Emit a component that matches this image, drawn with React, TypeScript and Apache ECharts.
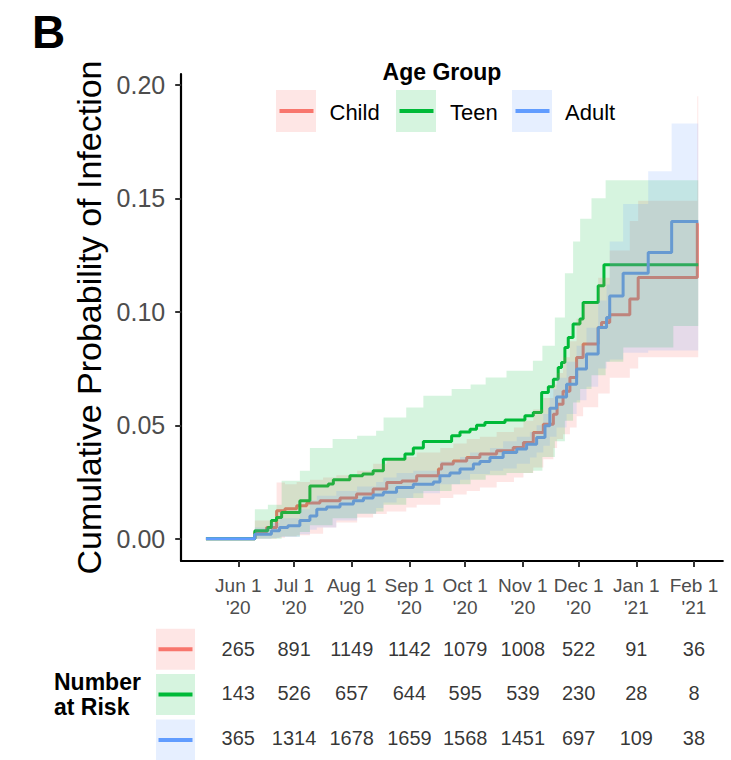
import React, { useEffect, useRef } from "react";
import * as echarts from "echarts";

const FONT = "'Liberation Sans', Arial, Helvetica, sans-serif";

// ---- categories / ticks ----
const groups = ["Child", "Teen", "Adult"];
const lineColors = ["#F8766D", "#00BA38", "#619CFF"];
const bandColors = ["rgba(248,118,109,0.18)", "rgba(0,186,56,0.16)", "rgba(97,156,255,0.16)"];

// days since Jun 1 2020
const tickDays = [0, 30, 61, 92, 122, 153, 183, 214, 245];
const tickLabels = ["Jun 1\n'20", "Jul 1\n'20", "Aug 1\n'20", "Sep 1\n'20", "Oct 1\n'20", "Nov 1\n'20", "Dec 1\n'20", "Jan 1\n'21", "Feb 1\n'21"];
const yTicks = [0, 0.05, 0.1, 0.15, 0.2];

// ---- estimates (step curves) ----
const childDays = [-17.4, 8.9, 15.2, 20.6, 25.1, 31.4, 36.8, 43.9, 54.7, 63.6, 72.5, 79.8, 87.9, 95.9, 107.6, 109.3, 115.6, 122.8, 129.9, 138.9, 147.8, 153.3, 158.6, 164, 169.4, 171.4, 174.6, 178.3, 181.9, 185.4, 193.5, 195.3, 199.7, 210.5, 215, 246.8, 247.3];
const childEst = [0, 0.003, 0.005, 0.0123, 0.0132, 0.0145, 0.0158, 0.0167, 0.018, 0.0197, 0.0219, 0.0248, 0.0255, 0.0278, 0.0307, 0.0329, 0.0343, 0.0358, 0.0373, 0.0388, 0.0402, 0.0424, 0.0468, 0.0505, 0.0549, 0.0593, 0.065, 0.0711, 0.0799, 0.0858, 0.0931, 0.0953, 0.0987, 0.1056, 0.1151, 0.139, 0.139];

const teenDays = [-17.4, 8.9, 15.9, 17.8, 20.6, 23.3, 33.1, 38.5, 48.4, 51.1, 60, 66.9, 72.5, 78, 89.6, 94.1, 99.5, 114.7, 119.2, 124.6, 128.1, 132.6, 143.4, 154.1, 158.6, 163.1, 166.7, 169.4, 172, 173.8, 175.6, 177.4, 180, 183.7, 185.4, 193.5, 196.6, 247.3];
const teenEst = [0, 0.0035, 0.005, 0.008, 0.0094, 0.0116, 0.0167, 0.0233, 0.0241, 0.026, 0.0278, 0.0285, 0.03, 0.035, 0.0373, 0.04, 0.0429, 0.0454, 0.047, 0.0483, 0.05, 0.0512, 0.0523, 0.0542, 0.0556, 0.0645, 0.067, 0.0703, 0.0755, 0.0777, 0.0843, 0.0887, 0.0946, 0.0968, 0.1041, 0.1115, 0.1207, 0.1207];

const adultDays = [-17.4, 8.9, 17.8, 22.2, 26.7, 33.1, 38.5, 42.2, 47.5, 54.7, 61.9, 67.3, 72.5, 78, 85.1, 94.1, 104.9, 108.4, 113.8, 119.2, 126.4, 129.9, 135.3, 142.4, 149.7, 155, 160.4, 164.9, 167.5, 171.1, 176.5, 181.9, 187.2, 193.5, 198, 199.7, 206.9, 220.4, 233, 247.3];
const adultEst = [0, 0.002, 0.0035, 0.005, 0.0057, 0.008, 0.01, 0.013, 0.014, 0.0153, 0.0167, 0.018, 0.0193, 0.0205, 0.0226, 0.024, 0.025, 0.0278, 0.029, 0.0307, 0.0329, 0.034, 0.0358, 0.038, 0.0395, 0.0417, 0.0446, 0.0498, 0.0575, 0.0625, 0.0681, 0.0748, 0.0814, 0.0931, 0.0975, 0.107, 0.117, 0.1261, 0.1398, 0.1398];

// ---- confidence bands ----
const childBandDays = [8.9, 20.6, 25.1, 31.4, 38.5, 45.6, 52.7, 63.9, 72.5, 79.8, 90.3, 95.9, 108.6, 115.6, 122.8, 129.9, 138.9, 148.2, 153.3, 158.6, 164, 169.4, 171.4, 174.6, 178.3, 181.9, 185.4, 193.5, 199.7, 210.5, 215, 246.8, 247.3];
const childLow = [0, 0.0005, 0.001, 0.0015, 0.0022, 0.005, 0.0072, 0.0094, 0.0109, 0.012, 0.0138, 0.015, 0.018, 0.0195, 0.021, 0.0226, 0.025, 0.027, 0.029, 0.0314, 0.035, 0.04, 0.044, 0.046, 0.049, 0.054, 0.058, 0.064, 0.071, 0.075, 0.08, 0.08, 0.08];
const childHigh = [0.008, 0.0248, 0.024, 0.025, 0.026, 0.027, 0.028, 0.03, 0.033, 0.035, 0.036, 0.038, 0.04, 0.042, 0.044, 0.045, 0.047, 0.049, 0.052, 0.057, 0.062, 0.068, 0.073, 0.08, 0.087, 0.097, 0.104, 0.115, 0.127, 0.14, 0.149, 0.195, 0.195];

const teenBandDays = [8.9, 15.9, 23.3, 33.1, 38.5, 50.7, 63.9, 74.1, 78.1, 90.3, 99.5, 114.7, 124.9, 133, 144.2, 158.4, 163.5, 170.2, 175.6, 180, 183.8, 189.9, 197.5, 207, 233.9, 247.3];
const teenLow = [0, 0, 0.001, 0.003, 0.006, 0.009, 0.011, 0.012, 0.015, 0.018, 0.021, 0.024, 0.026, 0.028, 0.029, 0.03, 0.036, 0.043, 0.052, 0.06, 0.066, 0.072, 0.078, 0.0843, 0.0938, 0.0938];
const teenHigh = [0.013, 0.015, 0.0256, 0.03, 0.04, 0.044, 0.0454, 0.0476, 0.0534, 0.0578, 0.063, 0.066, 0.068, 0.0711, 0.074, 0.0784, 0.085, 0.0975, 0.117, 0.131, 0.141, 0.15, 0.158, 0.158, 0.158, 0.158];

const adultBandDays = [8.9, 17.8, 22.2, 33.1, 38.5, 42.2, 52.7, 63.9, 74.1, 78, 85.1, 94.1, 108.4, 119.2, 124.6, 135.3, 142.4, 149.7, 156.8, 160.4, 164, 167.5, 171.1, 176.5, 181.9, 187.2, 193.5, 198, 199.7, 206.9, 220.4, 233, 247.3];
const adultLow = [0, 0.0003, 0.0008, 0.002, 0.004, 0.005, 0.008, 0.011, 0.0135, 0.016, 0.018, 0.02, 0.024, 0.026, 0.0285, 0.03, 0.031, 0.033, 0.0358, 0.038, 0.041, 0.045, 0.049, 0.055, 0.061, 0.067, 0.075, 0.078, 0.079, 0.082, 0.083, 0.083, 0.083];
const adultHigh = [0.005, 0.007, 0.009, 0.013, 0.017, 0.019, 0.021, 0.023, 0.025, 0.027, 0.029, 0.03, 0.034, 0.036, 0.038, 0.04, 0.043, 0.045, 0.047, 0.05, 0.055, 0.066, 0.071, 0.078, 0.085, 0.093, 0.105, 0.112, 0.131, 0.1475, 0.162, 0.183, 0.183];

// ---- number at risk ----
const atRiskChild = [265, 891, 1149, 1142, 1079, 1008, 522, 91, 36];
const atRiskTeen = [143, 526, 657, 644, 595, 539, 230, 28, 8];
const atRiskAdult = [365, 1314, 1678, 1659, 1568, 1451, 697, 109, 38];

const X_MIN = -30.7;
const X_MAX = 260.5;

function lineSeries(name: string, days: number[], est: number[], color: string) {
  return {
    name,
    type: "line",
    xAxisIndex: 0,
    yAxisIndex: 0,
    data: days.map((d, i) => [d, est[i]]),
    step: "end",
    showSymbol: false,
    symbol: "none",
    silent: true,
    z: 2,
    lineStyle: { color, width: 3 },
  };
}

function bandSeries(name: string, days: number[], low: number[], high: number[], color: string) {
  return {
    name: name + " CI",
    type: "custom",
    xAxisIndex: 0,
    yAxisIndex: 0,
    silent: true,
    z: 3,
    data: [[days[0], low[0]]],
    renderItem: (params: any, api: any) => {
      const pts: number[][] = [];
      for (let i = 0; i < days.length - 1; i++) {
        pts.push(api.coord([days[i], high[i]]));
        pts.push(api.coord([days[i + 1], high[i]]));
      }
      for (let i = days.length - 2; i >= 0; i--) {
        pts.push(api.coord([days[i + 1], low[i]]));
        pts.push(api.coord([days[i], low[i]]));
      }
      return { type: "polygon", shape: { points: pts }, style: { fill: color } };
    },
  };
}

function riskSeries(row: number, counts: number[]) {
  return {
    type: "scatter",
    xAxisIndex: 1,
    yAxisIndex: 1,
    silent: true,
    symbolSize: 1,
    itemStyle: { color: "rgba(0,0,0,0)" },
    data: tickDays.map((d, i) => [d, row, counts[i]]),
    label: {
      show: true,
      position: "inside",
      formatter: (p: any) => String(p.value[2]),
      color: "#000",
      fontSize: 20,
      fontFamily: FONT,
    },
  };
}

const legendBoxX = [276, 396, 512];
const legendTextX = [329.5, 450, 565];
const tableRowY = [628.8, 674, 719.5];

export default function App() {
  const ref = useRef<HTMLDivElement>(null);
  useEffect(() => {
    if (!ref.current) return;
    const chart = echarts.init(ref.current, undefined, { renderer: "svg" });
    const graphics: any[] = [];
    // main legend
    graphics.push({
      type: "text",
      x: 442,
      y: 72,
      style: { text: "Age Group", fontSize: 23, fontWeight: "bold", fontFamily: FONT, fill: "#000", align: "center", verticalAlign: "middle" },
    });
    groups.forEach((g, i) => {
      graphics.push({ type: "rect", shape: { x: legendBoxX[i], y: 90, width: 40, height: 42 }, style: { fill: bandColors[i] } });
      graphics.push({
        type: "line",
        shape: { x1: legendBoxX[i] + 3.5, y1: 111, x2: legendBoxX[i] + 37.5, y2: 111 },
        style: { stroke: lineColors[i], lineWidth: 4 },
      });
      graphics.push({
        type: "text",
        x: legendTextX[i],
        y: 112,
        style: { text: g, fontSize: 22, fontFamily: FONT, fill: "#000", align: "left", verticalAlign: "middle" },
      });
      // table keys
      graphics.push({ type: "rect", shape: { x: 156, y: tableRowY[i], width: 39, height: 41 }, style: { fill: bandColors[i] } });
      graphics.push({
        type: "line",
        shape: { x1: 158.5, y1: tableRowY[i] + 20.5, x2: 192.5, y2: tableRowY[i] + 20.5 },
        style: { stroke: lineColors[i], lineWidth: 4 },
      });
    });
    graphics.push({
      type: "text",
      x: 54,
      y: 694,
      style: { text: "Number\nat Risk", fontSize: 23, fontWeight: "bold", fontFamily: FONT, fill: "#000", align: "left", verticalAlign: "middle", lineHeight: 25 },
    });

    const option: any = {
      animation: false,
      backgroundColor: "#fff",
      textStyle: { fontFamily: FONT },
      title: {
        text: "B",
        left: 27,
        top: 4,
        textStyle: { fontSize: 46, fontWeight: "bold", color: "#000", fontFamily: FONT },
      },
      grid: [
        { left: 181.2, top: 74, width: 541.6, height: 487 },
        { left: 181.2, top: 626.8, width: 541.6, height: 135.6 },
      ],
      xAxis: [
        {
          gridIndex: 0,
          type: "value",
          min: X_MIN,
          max: X_MAX,
          splitLine: { show: false },
          axisLine: { show: true, onZero: false, lineStyle: { color: "#000", width: 2.2 } },
          axisTick: { show: true, length: 6, customValues: tickDays, lineStyle: { color: "#333", width: 2 } },
          axisLabel: {
            customValues: tickDays,
            formatter: (v: number) => {
              const i = tickDays.indexOf(Math.round(v));
              return i >= 0 ? tickLabels[i] : "";
            },
            color: "#4D4D4D",
            fontSize: 19,
            lineHeight: 22,
            margin: 13,
            fontFamily: FONT,
          },
        },
        { gridIndex: 1, type: "value", min: X_MIN, max: X_MAX, show: false },
      ],
      yAxis: [
        {
          gridIndex: 0,
          type: "value",
          min: -0.0098,
          max: 0.2048,
          splitLine: { show: false },
          axisLine: { show: true, onZero: false, lineStyle: { color: "#000", width: 2.2 } },
          axisTick: { show: true, length: 6, customValues: yTicks, lineStyle: { color: "#333", width: 2 } },
          axisLabel: {
            customValues: yTicks,
            formatter: (v: number) => v.toFixed(2),
            color: "#4D4D4D",
            fontSize: 25,
            margin: 16,
            fontFamily: FONT,
          },
          name: "Cumulative Probability of Infection",
          nameLocation: "middle",
          nameGap: 70,
          nameTextStyle: { fontSize: 34, color: "#000", fontFamily: FONT },
        },
        { gridIndex: 1, type: "category", data: groups, inverse: true, show: false },
      ],
      series: [
        lineSeries("Child", childDays, childEst, lineColors[0]),
        lineSeries("Teen", teenDays, teenEst, lineColors[1]),
        lineSeries("Adult", adultDays, adultEst, lineColors[2]),
        bandSeries("Child", childBandDays, childLow, childHigh, bandColors[0]),
        bandSeries("Teen", teenBandDays, teenLow, teenHigh, bandColors[1]),
        bandSeries("Adult", adultBandDays, adultLow, adultHigh, bandColors[2]),
        riskSeries(0, atRiskChild),
        riskSeries(1, atRiskTeen),
        riskSeries(2, atRiskAdult),
      ],
      graphic: graphics,
    };
    chart.setOption(option);
    return () => chart.dispose();
  }, []);
  return <div ref={ref} style={{ position: "absolute", left: 0, top: 0, width: 731, height: 760 }} />;
}
